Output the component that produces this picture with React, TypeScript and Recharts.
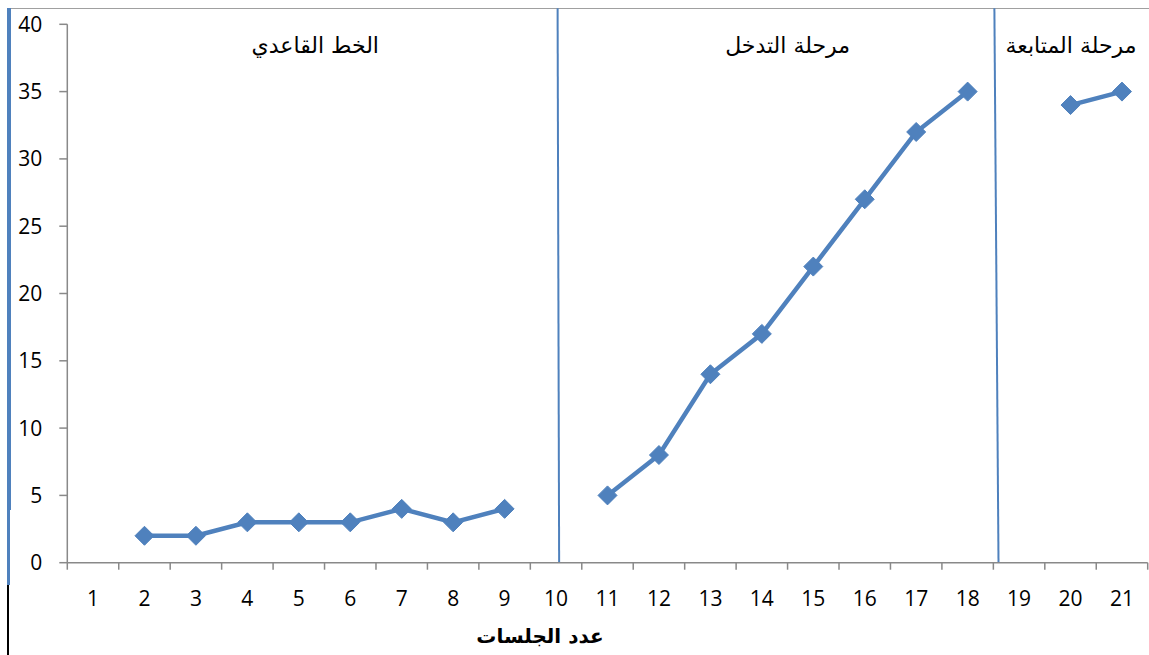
import React from 'react';
import { LineChart, Line, XAxis, YAxis, ReferenceLine, ReferenceDot } from 'recharts';

const sessions = [1, 2, 3, 4, 5, 6, 7, 8, 9, 10, 11, 12, 13, 14, 15, 16, 17, 18, 19, 20, 21];
const scores: (number | null)[] = [null, 2, 2, 3, 3, 3, 4, 3, 4, null, 5, 8, 14, 17, 22, 27, 32, 35, null, 34, 35];
const yTicks = [0, 5, 10, 15, 20, 25, 30, 35, 40];
const phaseLabels = ['الخط القاعدي', 'مرحلة التدخل', 'مرحلة المتابعة'];
const phaseLabelX = [5.32, 14.5, 20.01];
const phaseLabelY = 38.45;
const phaseDividers = [
  [10.03, 10.06],
  [18.52, 18.6],
];
const dividerTop = 41.2;
const xTitle = 'عدد الجلسات';

const data = sessions.map((s, i) => ({ session: s, score: scores[i] }));

const W = 1149;
const H = 655;
const M_TOP = 24.3;
const M_RIGHT = 1.3;
const Y_W = 67.3;
const X_H = 92.3;
const PLOT_W = W - Y_W - M_RIGHT;
const BAND = PLOT_W / sessions.length;

const BLUE = '#4F81BD';
const AXIS = '#898989';
const NUM_FONT = '"Open Sans", "Liberation Sans", sans-serif';
const AR_FONT = '"DejaVu Sans", sans-serif';

const XTick = (props: any) => {
  const { x, y, payload } = props;
  const v = payload.value;
  return (
    <g>
      <line x1={x - BAND / 2} x2={x - BAND / 2} y1={y} y2={y + 7} stroke={AXIS} strokeWidth={1.5} />
      {v === sessions[sessions.length - 1] && (
        <line x1={x + BAND / 2} x2={x + BAND / 2} y1={y} y2={y + 7} stroke={AXIS} strokeWidth={1.5} />
      )}
      <text x={x} y={y + 43} textAnchor="middle" fontSize={21} fontFamily={NUM_FONT} fill="#000">
        {v}
      </text>
    </g>
  );
};

const Diamond = (props: any) => {
  const { cx, cy } = props;
  if (cx == null || cy == null || props.value == null) return null;
  const r = 9.5;
  return (
    <polygon
      key={`d-${cx}`}
      points={`${cx},${cy - r} ${cx + r},${cy} ${cx},${cy + r} ${cx - r},${cy}`}
      fill={BLUE}
      stroke={BLUE}
      strokeWidth={1}
    />
  );
};

const TitleLabel = (props: any) => {
  const vb = props.viewBox || {};
  return (
    <text
      x={vb.x + vb.width * 0.4375}
      y={vb.y + 80}
      textAnchor="middle"
      fontSize={20}
      fontWeight="bold"
      fontFamily={AR_FONT}
      fill="#000"
    >
      {xTitle}
    </text>
  );
};

export default function App() {
  return (
    <div style={{ position: 'fixed', left: 0, top: 0, width: W, height: H, background: '#fff', overflow: 'hidden' }}>
      <div style={{ position: 'absolute', left: 9, top: 7.5, width: W - 9, height: 1.5, background: '#a0a0a0' }} />
      <div style={{ position: 'absolute', left: 7, top: 8, width: 4, height: 502, background: BLUE }} />
      <div style={{ position: 'absolute', left: 7, top: 510, width: 2.5, height: 75, background: BLUE }} />
      <div style={{ position: 'absolute', left: 7, top: 585, width: 2, height: 70, background: '#000' }} />
      <div style={{ position: 'absolute', left: 0, top: 0 }}>
        <LineChart width={W} height={H} data={data} margin={{ top: M_TOP, right: M_RIGHT, bottom: 0, left: 0 }}>
          <XAxis
            dataKey="session"
            type="number"
            domain={[0.5, 21.5]}
            ticks={sessions}
            interval={0}
            height={X_H}
            tickSize={0}
            tickMargin={0}
            tickLine={false}
            tick={<XTick />}
            axisLine={{ stroke: AXIS, strokeWidth: 1.5 }}
            allowDataOverflow
            label={<TitleLabel />}
          />
          <YAxis
            type="number"
            domain={[0, 40]}
            ticks={yTicks}
            interval={0}
            width={Y_W}
            tickSize={8}
            tickMargin={17}
            tickLine={{ stroke: AXIS, strokeWidth: 1.5 }}
            axisLine={{ stroke: AXIS, strokeWidth: 1.5 }}
            tick={{ fontSize: 21, fontFamily: NUM_FONT, fill: '#000' }}
            allowDataOverflow
          />
          {phaseDividers.map((d, i) => (
            <ReferenceLine
              key={`div-${i}`}
              segment={[
                { x: d[0], y: dividerTop },
                { x: d[1], y: 0 },
              ]}
              stroke={BLUE}
              strokeWidth={2}
              ifOverflow="visible"
            />
          ))}
          {phaseLabels.map((t, i) => (
            <ReferenceDot
              key={`lbl-${i}`}
              x={phaseLabelX[i]}
              y={phaseLabelY}
              r={0}
              fill="none"
              stroke="none"
              ifOverflow="visible"
              label={{ value: t, position: 'center', fontSize: 22, fontFamily: AR_FONT, fill: '#000' }}
            />
          ))}
          <Line
            type="linear"
            dataKey="score"
            stroke={BLUE}
            strokeWidth={4.5}
            dot={<Diamond />}
            activeDot={false}
            connectNulls={false}
            isAnimationActive={false}
          />
        </LineChart>
      </div>
    </div>
  );
}
